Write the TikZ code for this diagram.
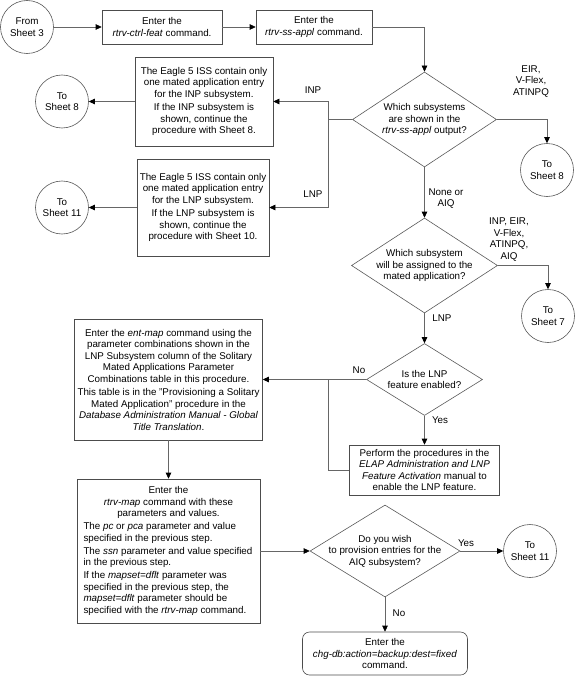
\documentclass[tikz,border=0pt]{standalone}
\usepackage{fontspec}
\setmainfont{Liberation Sans}
\usetikzlibrary{shapes.geometric,arrows.meta}
\begin{document}
\begin{tikzpicture}[x=1bp,y=-1bp,font=\fontsize{9.8bp}{11.5bp}\selectfont]
        \tikzstyle{line}=[draw=black!60, line width=0.6bp]
        \tikzstyle{arr}=[line, -{Triangle[length=6bp,width=5.5bp,color=black]}]
        \tikzstyle{sheet}=[circle, draw=black!65, line width=0.6bp, minimum size=53bp, inner sep=0pt, align=center]
        \tikzstyle{stepbox}=[rectangle, draw=black!70, line width=0.6bp, inner sep=2bp, align=center]
        \tikzstyle{endbox}=[stepbox, rounded corners=7bp]
        \tikzstyle{query}=[diamond, draw=black!65, line width=0.6bp, inner sep=0pt]
        \tikzstyle{txt}=[align=center, inner sep=0pt]

        \useasboundingbox (0,0) rectangle (575,676);

        \node (from3)[sheet] at (27,27) {From\\Sheet 3};
        \node (feat)[stepbox, minimum width=120bp, minimum height=34bp] at (162,27) {Enter the\\\textit{rtrv-ctrl-feat} command.};
        \node (ssappl)[stepbox, minimum width=116bp, minimum height=34bp] at (314,27) {Enter the\\\textit{rtrv-ss-appl} command.};

        \node (which)[query, minimum width=144bp, minimum height=95bp, label={[txt]center:{Which subsystems\\are shown in the\\\textit{rtrv-ss-appl} output?}}] at (424.5,119.5) {};
        \node (inp)[stepbox, minimum width=138bp, minimum height=89bp] at (204,101.5) {The Eagle 5 ISS contain only\\one mated application entry\\for the INP subsystem.\\[2bp]If the INP subsystem is\\shown, continue the\\procedure with Sheet 8.};
        \node (lnp)[stepbox, minimum width=132bp, minimum height=97bp] at (203,207.5) {The Eagle 5 ISS contain only\\one mated application entry\\for the LNP subsystem.\\[2bp]If the LNP subsystem is\\shown, continue the\\procedure with Sheet 10.};
        \node (to8a)[sheet] at (62,101.5) {To\\Sheet 8};
        \node (to11a)[sheet] at (62,207.5) {To\\Sheet 11};
        \node (to8b)[sheet] at (547,170) {To\\Sheet 8};

        \node (assign)[query, minimum width=146bp, minimum height=95bp, label={[txt]center:{Which subsystem\\will be assigned to the\\mated application?}}] at (424.5,265.5) {};
        \node (to7)[sheet] at (548,316) {To\\Sheet 7};
        \node (enabled)[query, minimum width=116bp, minimum height=72bp, label={[txt]center:{Is the LNP\\feature enabled?}}] at (424.5,379.5) {};
        \node (elap)[stepbox, minimum width=150bp, minimum height=50bp] at (424.5,470) {Perform the procedures in the\\\textit{ELAP Administration and LNP}\\\textit{Feature Activation} manual to\\enable the LNP feature.};
        \node (entmap)[stepbox, minimum width=188bp, minimum height=121bp] at (168.5,379.5) {Enter the \textit{ent-map} command using the\\parameter combinations shown in the\\LNP Subsystem column of the Solitary\\Mated Applications Parameter\\Combinations table in this procedure.\\[2bp]This table is in the "Provisioning a Solitary\\Mated Application" procedure in the\\\textit{Database Administration Manual - Global}\\\textit{Title Translation}.};
        \node (rtrvmap)[stepbox, minimum width=183bp, minimum height=144bp] at (168.5,551) {\begin{minipage}{170bp}\centering Enter the\\\textit{rtrv-map} command with these\\parameters and values.\par\raggedright\vspace{1.5bp}The \textit{pc} or \textit{pca} parameter and value\\specified in the previous step.\par\vspace{1.5bp}The \textit{ssn} parameter and value specified\\in the previous step.\par\vspace{1.5bp}If the \textit{mapset=dflt} parameter was\\specified in the previous step, the\\\textit{mapset=dflt} parameter should be\\specified with the \textit{rtrv-map} command.\end{minipage}};
        \node (provision)[query, minimum width=150bp, minimum height=92bp, label={[txt]center:{Do you wish\\to provision entries for the\\AIQ subsystem?}}] at (385,551) {};
        \node (to11b)[sheet] at (530,551) {To\\Sheet 11};
        \node (chgdb)[endbox, minimum width=165bp, minimum height=43bp] at (385,653.5) {Enter the\\\textit{chg-db:action=backup:dest=fixed}\\command.};

        \coordinate (splitA) at (328,119.5);
        \coordinate (joinB) at (328,379.5);

        \draw[arr] (from3) -- (feat);
        \draw[arr] (feat) -- (ssappl);
        \draw[arr] (ssappl.east) -| (which.north);
        \draw[line] (which.west) -- (splitA);
        \draw[arr] (splitA) |- (inp.east);
        \draw[arr] (splitA) |- (lnp.east);
        \draw[arr] (inp) -- (to8a);
        \draw[arr] (lnp) -- (to11a);
        \draw[arr] (which.east) -| (to8b.north);
        \draw[arr] (which.south) -- (assign.north);
        \draw[arr] (assign.east) -| (to7.north);
        \draw[arr] (assign.south) -- (enabled.north);
        \draw[arr] (enabled.west) -- (entmap.east);
        \draw[arr] (enabled.south) -- (elap.north);
        \draw[line] (elap.west) -| (joinB);
        \draw[arr] (entmap.south) -- (rtrvmap.north);
        \draw[arr] (rtrvmap.east) -- (provision.west);
        \draw[arr] (provision.east) -- (to11b.west);
        \draw[arr] (provision.south) -- (chgdb.north);

        \node (lblinp)[txt] at (313,90) {INP};
        \node (lbllnp)[txt] at (313,194) {LNP};
        \node (lbleir)[txt] at (531,81.5) {EIR,\\V-Flex,\\ATINPQ};
        \node (lblnone)[txt] at (446,198.5) {None or\\AIQ};
        \node (lblall)[txt] at (509,239.5) {INP, EIR,\\V-Flex,\\ATINPQ,\\AIQ};
        \node (lblsel)[txt] at (442,318) {LNP};
        \node (lblno)[txt] at (359,370) {No};
        \node (lblyes)[txt] at (440,420) {Yes};
        \node (lblyes2)[txt] at (466,543) {Yes};
        \node (lblno2)[txt] at (399,613) {No};
\end{tikzpicture}
\end{document}
